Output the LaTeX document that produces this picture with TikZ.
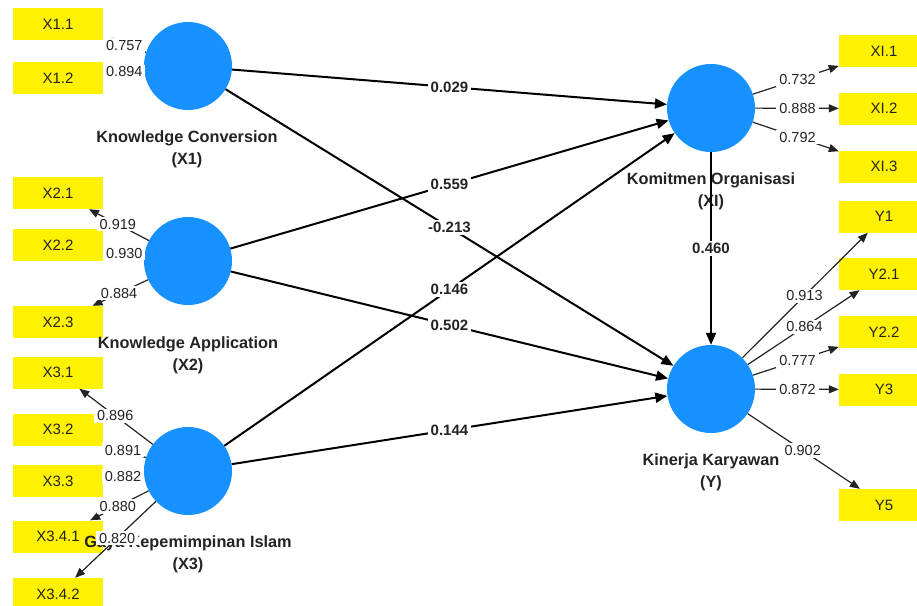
\documentclass[tikz,border=0pt]{standalone}
\usepackage{fontspec}
\setmainfont{Liberation Sans}
\usetikzlibrary{arrows.meta,calc}
\definecolor{lvblue}{RGB}{22,145,255}
\definecolor{indyellow}{RGB}{255,242,0}
\definecolor{txtgray}{RGB}{35,35,35}
\begin{document}
\begin{tikzpicture}[x=1pt,y=-1pt,
 latent/.style={circle,fill=lvblue,minimum size=88pt,inner sep=0pt},
 indbox/.style={rectangle,fill=indyellow,minimum width=90pt,minimum height=32pt,inner sep=0pt,font=\fontsize{15}{17}\selectfont,text=txtgray},
 lvlabel/.style={align=center,font=\bfseries\fontsize{16.3}{22}\selectfont,text=txtgray},
 loadarrow/.style={draw=txtgray,line width=1.2pt,-{Triangle[length=10pt,width=8pt]}},
 patharrow/.style={draw=black,line width=2pt,-{Triangle[length=12pt,width=10pt]}},
 loadlabel/.style={fill=white,inner xsep=3pt,inner ysep=2pt,font=\fontsize{14.5}{16}\selectfont,text=txtgray},
 pathlabel/.style={fill=white,inner xsep=2.5pt,inner ysep=2pt,font=\bfseries\fontsize{15}{17}\selectfont,text=txtgray}]
\useasboundingbox (0,0) rectangle (917,605);
\clip (0,0) rectangle (917,605);
% indicator boxes, left
\node[indbox] (b11) at (58,24) {X1.1};
\node[indbox] (b12) at (58,78) {X1.2};
\node[indbox] (b21) at (58,193) {X2.1};
\node[indbox] (b22) at (58,245) {X2.2};
\node[indbox] (b23) at (58,322) {X2.3};
\node[indbox] (b31) at (58,372.5) {X3.1};
\node[indbox] (b32) at (58,429.5) {X3.2};
\node[indbox] (b33) at (58,481) {X3.3};
\node[indbox] (b341) at (58,536.5) {X3.4.1};
\node[indbox] (b342) at (58,594) {X3.4.2};
% indicator boxes, right
\node[indbox] (c1) at (884,51) {XI.1};
\node[indbox] (c2) at (884,108.5) {XI.2};
\node[indbox] (c3) at (884,166.5) {XI.3};
\node[indbox] (y1) at (884,216.5) {Y1};
\node[indbox] (y21) at (884,274) {Y2.1};
\node[indbox] (y22) at (884,332) {Y2.2};
\node[indbox] (y3) at (884,389.5) {Y3};
\node[indbox] (y5) at (884,505) {Y5};
% latent variables
\node[latent] (X1) at (188,66) {};
\node[latent] (X2) at (188,261) {};
\node[latent] (X3) at (188,471) {};
\node[latent] (XI) at (711,108) {};
\node[latent] (Y) at (711,389) {};
% latent labels
\node[lvlabel] (lX1) at (187,149) {Knowledge Conversion\\(X1)};
\node[lvlabel] (lX2) at (188,355) {Knowledge Application\\(X2)};
\node[lvlabel] (lX3) at (188,554) {Gaya Kepemimpinan Islam\\(X3)};
\node[lvlabel] (lXI) at (711,191) {Komitmen Organisasi\\(XI)};
\node[lvlabel] (lY) at (711,472) {Kinerja Karyawan\\(Y)};
% structural paths
\draw[patharrow] (X1) -- (XI);
\draw[patharrow] (X1) -- (Y);
\draw[patharrow] (X2) -- (XI);
\draw[patharrow] (X2) -- (Y);
\draw[patharrow] (X3) -- (XI);
\draw[patharrow] (X3) -- (Y);
\draw[patharrow] (XI) -- (Y);
% loadings
\foreach \a/\b in {X1/b11,X1/b12,X2/b21,X2/b22,X2/b23,X3/b31,X3/b32,X3/b33,X3/b341,X3/b342,XI/c1,XI/c2,XI/c3,Y/y1,Y/y21,Y/y22,Y/y3,Y/y5}
  \draw[loadarrow] (\a) -- (\b);
% loading labels
\node[loadlabel] (n11) at ($(X1)!0.49!(b11)$) {0.757};
\node[loadlabel] (n12) at ($(X1)!0.49!(b12)$) {0.894};
\node[loadlabel] (n21) at ($(X2)!0.54!(b21)$) {0.919};
\node[loadlabel] (n22) at ($(X2)!0.49!(b22)$) {0.930};
\node[loadlabel] (n23) at ($(X2)!0.53!(b23)$) {0.884};
\node[loadlabel] (n31) at ($(X3)!0.56!(b31)$) {0.896};
\node[loadlabel] (n32) at ($(X3)!0.50!(b32)$) {0.891};
\node[loadlabel] (n33) at ($(X3)!0.50!(b33)$) {0.882};
\node[loadlabel] (n341) at ($(X3)!0.54!(b341)$) {0.880};
\node[loadlabel] (n342) at ($(X3)!0.545!(b342)$) {0.820};
\node[loadlabel] (m1) at ($(XI)!0.50!(c1)$) {0.732};
\node[loadlabel] (m2) at ($(XI)!0.50!(c2)$) {0.888};
\node[loadlabel] (m3) at ($(XI)!0.50!(c3)$) {0.792};
\node[loadlabel] (k1) at ($(Y)!0.54!(y1)$) {0.913};
\node[loadlabel] (k21) at ($(Y)!0.54!(y21)$) {0.864};
\node[loadlabel] (k22) at ($(Y)!0.50!(y22)$) {0.777};
\node[loadlabel] (k3) at ($(Y)!0.50!(y3)$) {0.872};
\node[loadlabel] (k5) at ($(Y)!0.53!(y5)$) {0.902};
% path labels
\node[pathlabel] (p1) at ($(X1)!0.5!(XI)$) {0.029};
\node[pathlabel] (p2) at ($(X1)!0.5!(Y)$) {-0.213};
\node[pathlabel] (p3) at ($(X2)!0.5!(XI)$) {0.559};
\node[pathlabel] (p4) at ($(X2)!0.5!(Y)$) {0.502};
\node[pathlabel] (p5) at ($(X3)!0.5!(XI)$) {0.146};
\node[pathlabel] (p6) at ($(X3)!0.5!(Y)$) {0.144};
\node[pathlabel] (p7) at ($(XI)!0.5!(Y)$) {0.460};
\end{tikzpicture}
\end{document}
